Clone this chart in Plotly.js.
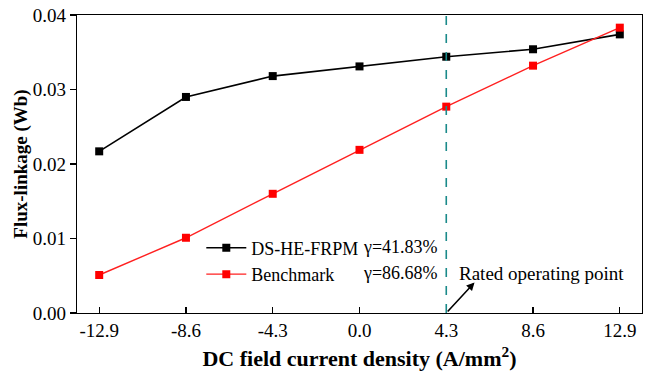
<!DOCTYPE html>
<html>
<head>
<meta charset="utf-8">
<script src="https://cdn.plot.ly/plotly-3.0.1.min.js"></script>
<style>html,body{margin:0;padding:0;background:#fff;}#chart{width:648px;height:381px;}</style>
</head>
<body>
<div id="chart"></div>
<script>
const currentDensity = [-12.9, -8.6, -4.3, 0.0, 4.3, 8.6, 12.9];
const tickLabels = ["-12.9", "-8.6", "-4.3", "0.0", "4.3", "8.6", "12.9"];
const dsHeFrpm = [0.0217, 0.0290, 0.0318, 0.0331, 0.0344, 0.0354, 0.0374];
const benchmark = [0.0051, 0.0101, 0.0160, 0.0219, 0.0277, 0.0332, 0.0383];
const seriesNames = ["DS-HE-FRPM", "Benchmark"];
const gammaTexts = ["γ=41.83%", "γ=86.68%"];
const ratedPoint = 4.3;

const font = "Liberation Serif";

const traces = [
  {x: currentDensity, y: dsHeFrpm, name: seriesNames[0], mode: "lines+markers",
   line: {color: "#000000", width: 1.6}, marker: {symbol: "square", size: 8, color: "#000000"}},
  {x: currentDensity, y: benchmark, name: seriesNames[1], mode: "lines+markers",
   line: {color: "#ff2020", width: 1.4}, marker: {symbol: "square", size: 8, color: "#ff0000"}}
];

const layout = {
  width: 648, height: 381,
  margin: {l: 77, r: 6, t: 15, b: 68},
  paper_bgcolor: "#ffffff", plot_bgcolor: "#ffffff",
  font: {family: font, size: 18, color: "#000"},
  showlegend: true,
  legend: {x: 0.22, y: 0.28, xanchor: "left", yanchor: "top", bgcolor: "rgba(0,0,0,0)",
           font: {family: font, size: 18, color: "#000"}, tracegroupgap: 0, itemwidth: 40},
  xaxis: {
    range: [-14, 14], tickvals: currentDensity, ticktext: tickLabels,
    ticks: "inside", ticklen: 6, tickwidth: 1.3, tickcolor: "#000",
    showline: true, linecolor: "#000", linewidth: 1.3, mirror: true,
    showgrid: false, zeroline: false,
    tickfont: {family: font, size: 19},
    title: {text: "<b>DC field current density (A/mm<sup>2</sup>)</b>", font: {family: font, size: 22}, standoff: 10}
  },
  yaxis: {
    range: [0, 0.04], tickvals: [0, 0.01, 0.02, 0.03, 0.04], tickformat: ".2f",
    ticks: "outside", ticklen: 6, tickwidth: 1.3, tickcolor: "#000",
    showline: true, linecolor: "#000", linewidth: 1.3, mirror: true,
    showgrid: false, zeroline: false,
    tickfont: {family: font, size: 19},
    title: {text: "<b>Flux-linkage (Wb)</b>", font: {family: font, size: 19}, standoff: 0}
  },
  shapes: [
    {type: "line", xref: "x", yref: "paper", x0: ratedPoint, x1: ratedPoint, y0: 0, y1: 1,
     line: {color: "#1a8a8a", width: 1.6, dash: "dash"}}
  ],
  annotations: [
    {xref: "paper", yref: "paper", x: 0.642, y: 0.222, xanchor: "right", yanchor: "middle",
     text: gammaTexts[0], showarrow: false, font: {family: font, size: 18}},
    {xref: "paper", yref: "paper", x: 0.642, y: 0.134, xanchor: "right", yanchor: "middle",
     text: gammaTexts[1], showarrow: false, font: {family: font, size: 18}},
    {xref: "paper", yref: "paper", x: 0.672, y: 0.134, xanchor: "left", yanchor: "middle",
     text: "Rated operating point", showarrow: false, font: {family: font, size: 19}},
    {xref: "x", yref: "y", x: 5.7, y: 0.0041, ax: ratedPoint, ay: 0.0, axref: "x", ayref: "y",
     text: "", showarrow: true, arrowhead: 2, arrowsize: 1, arrowwidth: 1.6, arrowcolor: "#000", standoff: 0}
  ]
};

Plotly.newPlot("chart", traces, layout, {displayModeBar: false, staticPlot: true});
</script>
</body>
</html>
